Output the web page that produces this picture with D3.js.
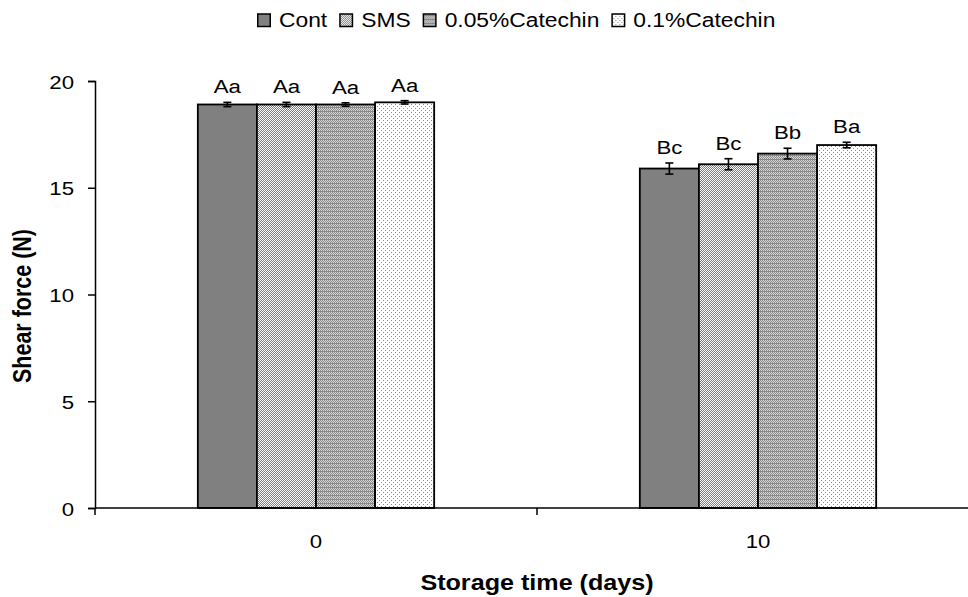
<!DOCTYPE html>
<html>
<head>
<meta charset="utf-8">
<script src="https://cdn.jsdelivr.net/npm/d3@7"></script>
<style>
  html, body { margin: 0; padding: 0; background: #fff; }
  svg { display: block; font-family: "Liberation Sans", Arial, sans-serif; }
</style>
</head>
<body>
<svg id="chart" width="968" height="597"></svg>
<script>
// Storage days on the x axis
const days = ["0", "10"];
// Treatments (legend order)
const treatments = ["Cont", "SMS", "0.05%Catechin", "0.1%Catechin"];
// Mean shear force (N), one array per storage day, in treatment order
const shearDay0 = [18.9, 18.9, 18.9, 19.0];
const shearDay10 = [15.9, 16.1, 16.6, 17.0];
// Error bar half-lengths (N)
const errDay0 = [0.1, 0.1, 0.08, 0.08];
const errDay10 = [0.26, 0.26, 0.25, 0.13];
// Significance letters
const lettersDay0 = ["Aa", "Aa", "Aa", "Aa"];
const lettersDay10 = ["Bc", "Bc", "Bb", "Ba"];
const yTicks = [0, 5, 10, 15, 20];

const rows = [
  { day: days[0], values: shearDay0, errs: errDay0, letters: lettersDay0 },
  { day: days[1], values: shearDay10, errs: errDay10, letters: lettersDay10 }
];

const svg = d3.select("#chart");
const plotLeft = 95, plotRight = 979, plotTop = 81, plotBottom = 508;
const FS = 19;          // label font size
const TFS = 21.5;       // axis title font size
const SX = 1.17;        // horizontal text stretch

// place a text element at (x, y) with the horizontal stretch applied
function put(sel, x, y) {
  return sel.attr("x", 0).attr("y", 0)
    .attr("transform", `translate(${x},${y}) scale(${SX},1)`);
}

// Fill patterns for the four treatments
const defs = svg.append("defs");
function pat(id, w, h, bg, cells, color) {
  const p = defs.append("pattern").attr("id", id)
    .attr("patternUnits", "userSpaceOnUse").attr("width", w).attr("height", h);
  p.append("rect").attr("width", w).attr("height", h).attr("fill", bg);
  cells.forEach(([cx, cy]) => p.append("rect").attr("x", cx).attr("y", cy)
    .attr("width", 1).attr("height", 1).attr("fill", color));
}
pat("pSMS", 2, 2, "#ffffff", [[0, 0], [1, 1]], "#7a7a7a");
pat("pC05", 2, 4, "#8a8a8a", [[0, 0], [1, 1], [0, 2]], "#d8d8d8");
pat("pC10", 4, 4, "#ffffff", [[0, 0], [2, 2]], "#8c8c8c");
const fills = ["#808080", "url(#pSMS)", "url(#pC05)", "url(#pC10)"];

const x0 = d3.scaleBand().domain(days).range([plotLeft, plotRight]).paddingInner(0).paddingOuter(0);
const x1 = d3.scaleBand().domain(treatments).range([0, x0.bandwidth()])
  .paddingInner(0).paddingOuter(1.74);
const y = d3.scaleLinear().domain([0, 20]).range([plotBottom, plotTop]);

// Bars
const groups = svg.append("g").selectAll("g").data(rows).join("g")
  .attr("transform", d => `translate(${x0(d.day)},0)`);

const items = d => treatments.map((t, i) => ({ t, i, v: d.values[i], e: d.errs[i], l: d.letters[i] }));

groups.selectAll("rect.bar").data(items).join("rect")
  .attr("class", "bar")
  .attr("x", d => x1(d.t))
  .attr("y", d => y(d.v))
  .attr("width", x1.bandwidth())
  .attr("height", d => y(0) - y(d.v))
  .attr("fill", d => fills[d.i])
  .attr("stroke", "#000")
  .attr("stroke-width", 1.8);

// Error bars
const eb = groups.selectAll("g.err").data(items).join("g").attr("class", "err")
  .attr("transform", d => `translate(${x1(d.t) + x1.bandwidth() / 2},0)`);
eb.append("line").attr("y1", d => y(d.v + d.e)).attr("y2", d => y(d.v - d.e))
  .attr("stroke", "#000").attr("stroke-width", 1.6);
eb.append("line").attr("x1", -4).attr("x2", 4)
  .attr("y1", d => y(d.v + d.e)).attr("y2", d => y(d.v + d.e))
  .attr("stroke", "#000").attr("stroke-width", 1.6);
eb.append("line").attr("x1", -4).attr("x2", 4)
  .attr("y1", d => y(d.v - d.e)).attr("y2", d => y(d.v - d.e))
  .attr("stroke", "#000").attr("stroke-width", 1.6);

// Letters above error bars
groups.selectAll("text.lab").data(items).join("text")
  .attr("class", "lab")
  .attr("text-anchor", "middle")
  .attr("font-size", FS)
  .text(d => d.l)
  .each(function (d) {
    put(d3.select(this), x1(d.t) + x1.bandwidth() / 2, y(d.v + d.e) - 9);
  });

// Y axis
const yAxis = svg.append("g").attr("transform", `translate(${plotLeft},0)`)
  .call(d3.axisLeft(y).tickValues(yTicks).tickSize(7).tickPadding(12));
yAxis.select(".domain").attr("stroke-width", 1.5);
yAxis.selectAll(".tick line").attr("stroke-width", 1.5);
yAxis.selectAll(".tick text")
  .attr("font-size", FS).attr("font-family", "Liberation Sans, Arial, sans-serif")
  .attr("fill", "#000").attr("dy", null)
  .each(function () {
    const t = d3.select(this);
    put(t, -21, 7);
  });

// X axis: ticks at category boundaries, labels centred in bands
const xg = svg.append("g").attr("transform", `translate(0,${plotBottom})`);
xg.append("line").attr("x1", plotLeft).attr("x2", plotRight).attr("stroke", "#000").attr("stroke-width", 1.5);
const bounds = [plotLeft, ...days.map(d => x0(d) + x0.bandwidth())];
xg.selectAll("line.tk").data(bounds).join("line").attr("class", "tk")
  .attr("x1", d => d).attr("x2", d => d).attr("y1", 0).attr("y2", 7)
  .attr("stroke", "#000").attr("stroke-width", 1.5);
xg.selectAll("text").data(days).join("text")
  .attr("text-anchor", "middle")
  .attr("font-size", FS)
  .text(d => d)
  .each(function (d) { put(d3.select(this), x0(d) + x0.bandwidth() / 2, 40); });

// Axis titles
put(svg.append("text"), (plotLeft + plotRight) / 2, 590)
  .attr("text-anchor", "middle").attr("font-size", TFS).attr("font-weight", "bold")
  .text("Storage time (days)");
svg.append("text")
  .attr("transform", `translate(31,306) scale(${SX},1) rotate(-90)`)
  .attr("text-anchor", "middle").attr("font-size", TFS).attr("font-weight", "bold")
  .text("Shear force (N)");

// Legend
const legend = svg.append("g").attr("transform", "translate(257,0)");
let lx = 0;
treatments.forEach((t, i) => {
  const g = legend.append("g").attr("transform", `translate(${lx},0)`);
  g.append("rect").attr("x", 0.75).attr("y", 14).attr("width", 12.5).attr("height", 12.5)
    .attr("fill", fills[i]).attr("stroke", "#000").attr("stroke-width", 1.5);
  const tx = put(g.append("text"), 22, 27.3).attr("font-size", 19.5).text(t);
  lx += 22 + tx.node().getComputedTextLength() * SX + 12;
});
</script>
</body>
</html>
